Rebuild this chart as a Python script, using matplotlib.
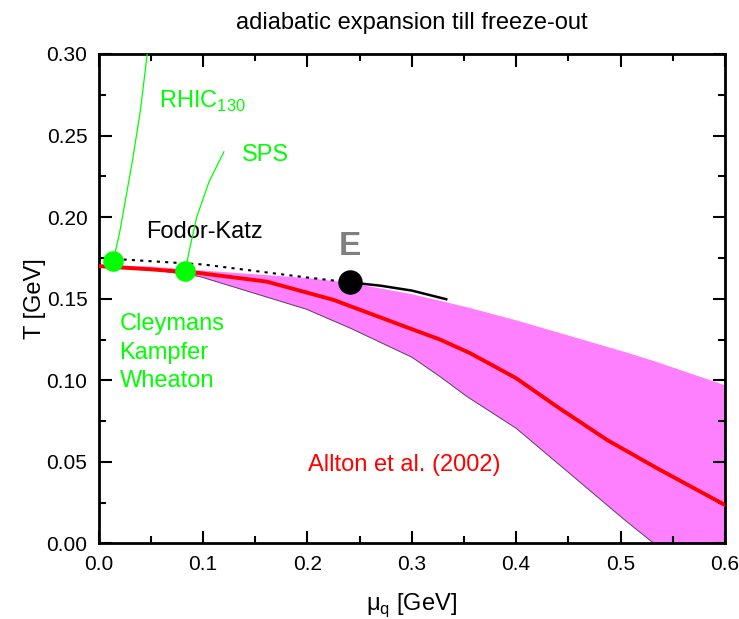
import numpy as np
import matplotlib.pyplot as plt
from matplotlib.ticker import MultipleLocator

plt.rcParams['font.family'] = ['Liberation Sans', 'DejaVu Sans']
plt.rcParams['mathtext.fontset'] = 'custom'
plt.rcParams['mathtext.rm'] = 'Liberation Sans'

# Allton et al. (2002) central curve
mu_red = [0.0, 0.05, 0.097, 0.161, 0.225, 0.289, 0.327, 0.356, 0.40, 0.439, 0.487, 0.535, 0.6]
T_red = [0.170, 0.168, 0.1657, 0.1605, 0.1493, 0.134, 0.125, 0.1166, 0.1013, 0.0839, 0.0635, 0.0461, 0.0236]

# uncertainty band
mu_band = [0.0, 0.05, 0.097, 0.199, 0.241, 0.30, 0.327, 0.353, 0.40, 0.504, 0.532, 0.6]
T_band_hi = [0.171, 0.170, 0.1677, 0.163, 0.160, 0.153, 0.149, 0.145, 0.137, 0.1176, 0.112, 0.0972]
T_band_lo = [0.170, 0.168, 0.1636, 0.1436, 0.132, 0.1142, 0.1023, 0.090, 0.0706, 0.0144, 0.0, 0.0]

# Fodor-Katz
mu_fk_dot = [0.0, 0.05, 0.1, 0.15, 0.2, 0.241]
T_fk_dot = [0.175, 0.173, 0.171, 0.167, 0.163, 0.160]
mu_fk = [0.241, 0.27, 0.3, 0.333]
T_fk = [0.160, 0.158, 0.155, 0.1497]
mu_E, T_E = 0.241, 0.160

# freeze-out points (Cleymans Kampfer Wheaton) and adiabats
mu_fo = [0.014, 0.083]
T_fo = [0.173, 0.167]
mu_rhic = [0.014, 0.020, 0.032, 0.040, 0.0466]
T_rhic = [0.173, 0.190, 0.233, 0.265, 0.300]
mu_sps = [0.083, 0.087, 0.094, 0.106, 0.120]
T_sps = [0.167, 0.180, 0.200, 0.222, 0.240]

fig = plt.figure(figsize=(7.39, 6.19), dpi=100)
ax = fig.add_axes([0.1334, 0.122, 0.8476, 0.7908])

ax.fill_between(mu_band, T_band_lo, T_band_hi, color='#ff80ff', lw=0, zorder=1)
ax.plot(mu_band, T_band_lo, color='#604060', lw=0.7, zorder=2)
ax.plot(mu_red, T_red, color='#ff0000', lw=2.8, zorder=3)
ax.plot(mu_fk_dot, T_fk_dot, color='black', lw=1.5, ls=(0, (1.5, 2.5)), zorder=4)
ax.plot(mu_fk, T_fk, color='black', lw=1.8, zorder=4)
ax.plot(mu_rhic, T_rhic, color='#00ff00', lw=0.9, zorder=4)
ax.plot(mu_sps, T_sps, color='#00ff00', lw=0.9, zorder=4)
ax.scatter(mu_fo, T_fo, s=220, color='#00ff00', zorder=5, lw=0)
ax.scatter([mu_E], [T_E], s=310, color='black', zorder=5, lw=0)

ax.text(0.058, 0.271, 'RHIC$_\\mathregular{130}$', color='#00ff00', fontsize=17, va='center')
ax.text(0.137, 0.238, 'SPS', color='#00ff00', fontsize=17, va='center')
ax.text(0.046, 0.191, 'Fodor-Katz', color='black', fontsize=17, va='center')
ax.text(0.241, 0.182, 'E', color='#808080', fontsize=24, fontweight='bold', ha='center', va='center')
ax.text(0.020, 0.117, 'Cleymans\nKampfer\nWheaton', color='#00ff00', fontsize=17,
        va='center', linespacing=1.38)
ax.text(0.201, 0.048, 'Allton et al. (2002)', color='#ff0000', fontsize=17, va='center')

ax.set_xlim(0, 0.6)
ax.set_ylim(0, 0.30)
ax.xaxis.set_major_locator(MultipleLocator(0.1))
ax.xaxis.set_minor_locator(MultipleLocator(0.05))
ax.yaxis.set_major_locator(MultipleLocator(0.05))
ax.yaxis.set_minor_locator(MultipleLocator(0.025))
ax.set_xticklabels(['%.1f' % v for v in ax.get_xticks()])
ax.set_yticklabels(['%.2f' % v for v in ax.get_yticks()])
ax.tick_params(which='both', direction='in', top=True, right=True, width=1.5, labelsize=15, pad=8)
ax.tick_params(which='major', length=9)
ax.tick_params(which='minor', length=5)
for s in ax.spines.values():
    s.set_linewidth(2)

ax.set_xlabel('\u03bc$_\\mathregular{q}$ [GeV]', fontsize=17, labelpad=13)
ax.set_ylabel('T [GeV]', fontsize=17, labelpad=0)
ax.set_title('adiabatic expansion till freeze-out', fontsize=17, pad=18)

fig.savefig('out.png', dpi=100)
